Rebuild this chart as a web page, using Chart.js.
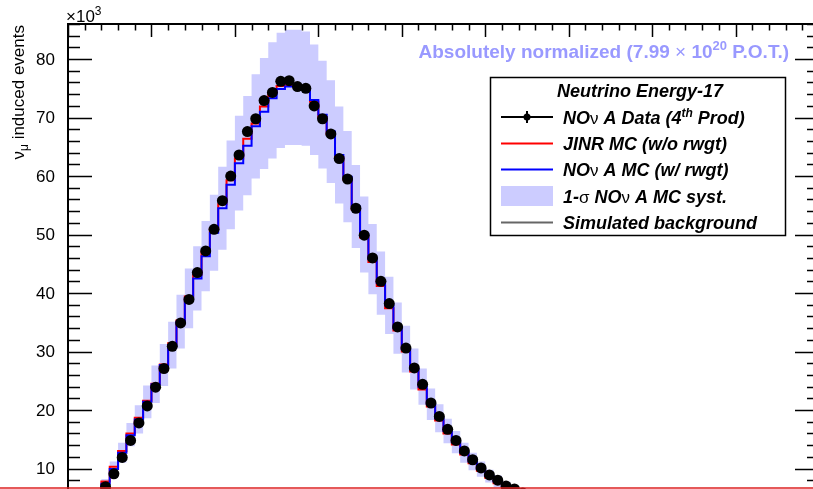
<!DOCTYPE html>
<html>
<head>
<meta charset="utf-8">
<script src="https://cdn.jsdelivr.net/npm/chart.js@4.4.0/dist/chart.umd.min.js"></script>
<style>
html, body { margin: 0; padding: 0; overflow: hidden; background: #fff; }
</style>
</head>
<body>
<canvas id="energyChart" width="830" height="545"></canvas>
<script>
// bin centres (GeV) and bin contents in units of 10^3 events
var binCenters = [0.05, 0.15, 0.25, 0.35, 0.45, 0.55, 0.65, 0.75, 0.85, 0.95,
    1.05, 1.15, 1.25, 1.35, 1.45, 1.55, 1.65, 1.75, 1.85, 1.95,
    2.05, 2.15, 2.25, 2.35, 2.45, 2.55, 2.65, 2.75, 2.85, 2.95,
    3.05, 3.15, 3.25, 3.35, 3.45, 3.55, 3.65, 3.75, 3.85, 3.95,
    4.05, 4.15, 4.25, 4.35, 4.45, 4.55, 4.65, 4.75, 4.85, 4.95,
    5.05, 5.15, 5.25, 5.35, 5.45, 5.55, 5.65, 5.75, 5.85, 5.95]

var novaData = [0.4, 1.3, 2.7, 4.6, 6.9, 9.1, 11.9, 14.8, 17.8, 20.7,
    23.9, 27.1, 30.9, 34.9, 38.9, 43.5, 47.2, 50.9, 55.8, 60.0,
    63.6, 67.6, 69.8, 72.9, 74.3, 76.2, 76.3, 75.3, 75.0, 72.0,
    69.8, 67.2, 63.0, 59.5, 54.5, 49.9, 46.0, 42.0, 38.2, 34.2,
    30.6, 27.2, 24.4, 21.2, 18.9, 16.7, 14.8, 13.0, 11.5, 10.1,
    8.9, 8.0, 7.0, 6.5, 5.8, 5.2, 4.7, 4.2, 3.8, 3.4]

var jinrMC = [0.6, 1.7, 3.3, 5.5, 7.8, 10.3, 13.0, 16.0, 18.7, 21.6,
    24.5, 27.8, 31.4, 35.3, 39.4, 43.1, 47.0, 51.0, 55.2, 59.3,
    63.0, 66.4, 69.0, 71.9, 74.2, 75.4, 75.5, 75.3, 74.8, 72.7,
    70.1, 67.2, 63.2, 59.4, 54.3, 49.5, 45.3, 41.2, 37.4, 33.6,
    30.0, 26.6, 23.5, 20.6, 18.2, 16.0, 14.1, 12.4, 10.9, 9.6,
    8.4, 7.5, 6.6, 5.9, 5.3, 4.8, 4.3, 3.8, 3.4, 3.0]

var novaMC = [0.5, 1.5, 3.0, 5.1, 7.4, 9.9, 12.7, 15.7, 18.4, 21.4,
    24.4, 27.7, 31.1, 35.1, 39.1, 42.5, 46.3, 50.3, 54.5, 58.5,
    62.2, 65.2, 68.5, 71.0, 73.3, 74.9, 75.3, 75.3, 75.0, 73.0,
    70.5, 67.6, 63.6, 59.9, 54.8, 50.0, 45.8, 41.7, 37.9, 34.0,
    30.4, 27.0, 24.0, 21.0, 18.6, 16.4, 14.5, 12.7, 11.2, 9.9,
    8.7, 7.8, 6.9, 6.2, 5.6, 5.0, 4.5, 4.0, 3.6, 3.2]

var systUp = [0.6, 1.7, 3.4, 5.8, 8.2, 11.2, 14.4, 17.8, 20.8, 24.2,
    27.6, 31.3, 35.1, 39.7, 44.2, 48.0, 52.3, 56.8, 61.6, 66.1,
    70.3, 73.7, 77.4, 80.2, 82.9, 84.5, 85.0, 85.0, 84.7, 82.5,
    79.7, 76.4, 71.9, 67.7, 61.9, 56.5, 51.8, 47.1, 42.8, 38.4,
    34.4, 30.5, 27.1, 23.7, 21.0, 18.5, 16.4, 14.4, 12.7, 11.2,
    9.8, 8.8, 7.8, 7.0, 6.3, 5.7, 5.1, 4.5, 4.1, 3.6]

var systDown = [0.4, 1.3, 2.6, 4.4, 6.4, 8.4, 11.0, 13.8, 16.0, 18.6,
    21.2, 24.1, 27.1, 30.5, 34.0, 37.0, 40.3, 43.8, 47.4, 50.9,
    54.1, 56.7, 59.6, 61.2, 63.0, 64.8, 65.3, 65.3, 65.2, 63.6,
    61.3, 58.8, 55.3, 52.1, 47.7, 43.5, 39.8, 36.3, 33.0, 29.6,
    26.4, 23.5, 20.9, 18.3, 16.2, 14.3, 12.6, 11.0, 9.7, 8.6,
    7.6, 6.8, 6.0, 5.4, 4.9, 4.4, 3.9, 3.5, 3.1, 2.8]

var background = [0.1, 0.3, 0.5, 0.8, 1.0, 1.2, 1.4, 1.5, 1.6, 1.7,
    1.7, 1.8, 1.8, 1.8, 1.8, 1.7, 1.7, 1.6, 1.6, 1.5,
    1.5, 1.4, 1.4, 1.3, 1.3, 1.2, 1.2, 1.1, 1.1, 1.0,
    1.0, 0.9, 0.9, 0.9, 0.8, 0.8, 0.8, 0.7, 0.7, 0.7,
    0.6, 0.6, 0.6, 0.6, 0.5, 0.5, 0.5, 0.5, 0.5, 0.4,
    0.4, 0.4, 0.4, 0.4, 0.3, 0.3, 0.3, 0.3, 0.3, 0.3]

var xMajorTicks = [0, 1, 2, 3, 4, 5, 6, 7, 8, 9]
var yMajorTicks = [0, 10, 20, 30, 40, 50, 60, 70, 80]

var FONT = "'Liberation Sans', Arial, Helvetica, sans-serif"

function points(values) {
    return values.map(function (v, i) {
        return { x: binCenters[i], y: v }
    })
}

function stepLine(label, values, color) {
    return {
        label: label,
        data: points(values),
        borderColor: color,
        borderWidth: 2,
        pointRadius: 0,
        stepped: 'middle',
        fill: false
    }
}

// draw a run of text pieces with their own fonts / vertical offsets
function drawPieces(ctx, x, y, pieces) {
    pieces.forEach(function (p) {
        ctx.font = p.font
        ctx.fillText(p.t, x, y + (p.dy || 0))
        x += ctx.measureText(p.t).width
    })
    return x
}

function piecesWidth(ctx, pieces) {
    var w = 0
    pieces.forEach(function (p) {
        ctx.font = p.font
        w += ctx.measureText(p.t).width
    })
    return w
}

var rootStyle = {
    id: 'rootStyle',
    afterDraw: function (chart) {
        var ctx = chart.ctx
        var a = chart.chartArea
        var xs = chart.scales.x
        var ys = chart.scales.y
        ctx.save()

        // frame
        ctx.strokeStyle = '#000'
        ctx.lineWidth = 2
        ctx.strokeRect(a.left, a.top, a.right - a.left, a.bottom - a.top)

        // top axis ticks
        ctx.lineWidth = 1.5
        ctx.beginPath()
        for (var v = 0; v <= 9.001; v += 0.2) {
            var px = Math.round(xs.getPixelForValue(v)) + 0.5
            var major = Math.abs(v - Math.round(v)) < 0.01
            ctx.moveTo(px, a.top)
            ctx.lineTo(px, a.top + (major ? 13 : 6.5))
        }
        // left and right axis ticks
        for (var w = 0; w <= 86; w += 2) {
            var py = Math.round(ys.getPixelForValue(w)) + 0.5
            var len = (w % 10 === 0) ? 24 : 12
            ctx.moveTo(a.left, py)
            ctx.lineTo(a.left + len, py)
            ctx.moveTo(a.right, py)
            ctx.lineTo(a.right - len, py)
        }
        ctx.stroke()

        // y tick labels
        ctx.fillStyle = '#000'
        ctx.textAlign = 'right'
        ctx.textBaseline = 'middle'
        ctx.font = '17px ' + FONT
        yMajorTicks.forEach(function (t) {
            ctx.fillText(String(t), a.left - 13, ys.getPixelForValue(t) + 1)
        })

        // x10^3 exponent
        ctx.textAlign = 'left'
        ctx.textBaseline = 'alphabetic'
        drawPieces(ctx, 66, 22, [
            { t: '\u00d710', font: '17px ' + FONT },
            { t: '3', font: '12px ' + FONT, dy: -7 }
        ])

        // y axis title
        ctx.save()
        ctx.translate(24, 25)
        ctx.rotate(-Math.PI / 2)
        var title = [
            { t: '\u03bd', font: '17px ' + FONT },
            { t: '\u03bc', font: '12px ' + FONT, dy: 4 },
            { t: ' induced events', font: '17px ' + FONT }
        ]
        drawPieces(ctx, -piecesWidth(ctx, title), 0, title)
        ctx.restore()

        // normalisation label
        ctx.fillStyle = '#9999ff'
        var norm = [
            { t: 'Absolutely normalized (7.99 ', font: 'bold 19px ' + FONT },
            { t: '\u00d7', font: '19px ' + FONT },
            { t: ' 10', font: 'bold 19px ' + FONT },
            { t: '20', font: 'bold 13px ' + FONT, dy: -8 },
            { t: ' P.O.T.)', font: 'bold 19px ' + FONT }
        ]
        drawPieces(ctx, 789 - piecesWidth(ctx, norm), 57.5, norm)

        // legend box
        ctx.fillStyle = '#fff'
        ctx.fillRect(490, 77, 296, 159)
        ctx.strokeStyle = '#000'
        ctx.lineWidth = 1.5
        ctx.strokeRect(490.5, 77.5, 295, 158)

        ctx.fillStyle = '#000'
        ctx.textAlign = 'center'
        ctx.font = 'bold italic 18px ' + FONT
        ctx.fillText('Neutrino Energy-17', 640, 97)
        ctx.textAlign = 'left'

        var bi = 'bold italic 18px ' + FONT
        var sym = '17px ' + FONT
        var rows = [
            [{ t: 'NO', font: bi }, { t: '\u03bd', font: sym }, { t: ' A Data (4', font: bi },
                { t: 'th', font: 'bold italic 12px ' + FONT, dy: -7 }, { t: ' Prod)', font: bi }],
            [{ t: 'JINR MC (w/o rwgt)', font: bi }],
            [{ t: 'NO', font: bi }, { t: '\u03bd', font: sym }, { t: ' A MC (w/ rwgt)', font: bi }],
            [{ t: '1-', font: bi }, { t: '\u03c3', font: sym }, { t: ' NO', font: bi }, { t: '\u03bd', font: sym },
                { t: ' A MC syst.', font: bi }],
            [{ t: 'Simulated background', font: bi }]
        ]
        var rowY = [117, 143.5, 169.5, 196, 222.5]
        rows.forEach(function (r, i) {
            drawPieces(ctx, 563, rowY[i] + 6.5, r)
        })

        // legend symbols
        ctx.lineWidth = 2
        ctx.strokeStyle = '#000'
        ctx.beginPath()
        ctx.moveTo(501, rowY[0]); ctx.lineTo(553, rowY[0])
        ctx.moveTo(527, rowY[0] - 6); ctx.lineTo(527, rowY[0] + 6)
        ctx.stroke()
        ctx.beginPath()
        ctx.arc(527, rowY[0], 3.5, 0, Math.PI * 2)
        ctx.fill()

        ctx.strokeStyle = '#ff0000'
        ctx.beginPath(); ctx.moveTo(501, rowY[1]); ctx.lineTo(553, rowY[1]); ctx.stroke()
        ctx.strokeStyle = '#0000ff'
        ctx.beginPath(); ctx.moveTo(501, rowY[2]); ctx.lineTo(553, rowY[2]); ctx.stroke()
        ctx.fillStyle = '#ccccff'
        ctx.fillRect(501, rowY[3] - 10, 52, 20)
        ctx.strokeStyle = '#666666'
        ctx.beginPath(); ctx.moveTo(501, rowY[4]); ctx.lineTo(553, rowY[4]); ctx.stroke()

        // red line along the bottom edge of the picture
        ctx.strokeStyle = '#dd2222'
        ctx.lineWidth = 1.5
        ctx.beginPath(); ctx.moveTo(0, 488); ctx.lineTo(chart.width, 488); ctx.stroke()

        ctx.restore()
    }
}

var ctx = document.getElementById('energyChart').getContext('2d')

new Chart(ctx, {
    type: 'line',
    data: {
        datasets: [{
                label: 'NOvA Data (4th Prod)',
                data: points(novaData),
                showLine: false,
                pointRadius: 5.5,
                pointBackgroundColor: '#000',
                pointBorderWidth: 0
            },
            stepLine('NOvA MC (w/ rwgt)', novaMC, '#0000ff'),
            stepLine('JINR MC (w/o rwgt)', jinrMC, '#ff0000'),
            stepLine('Simulated background', background, '#666666'),
            {
                label: '1-sigma NOvA MC syst.',
                data: points(systUp),
                borderWidth: 0,
                pointRadius: 0,
                stepped: 'middle',
                backgroundColor: '#ccccff',
                fill: '+1'
            },
            {
                label: 'syst low',
                data: points(systDown),
                borderWidth: 0,
                pointRadius: 0,
                stepped: 'middle',
                fill: false
            }
        ]
    },
    options: {
        responsive: false,
        animation: false,
        layout: {
            padding: { left: 68, top: 24, right: 11, bottom: 18 }
        },
        scales: {
            x: { type: 'linear', min: 0, max: 9, display: false },
            y: { min: 0, max: 86, display: false }
        },
        plugins: {
            legend: { display: false },
            tooltip: { enabled: false }
        }
    },
    plugins: [rootStyle]
})
</script>
</body>
</html>
